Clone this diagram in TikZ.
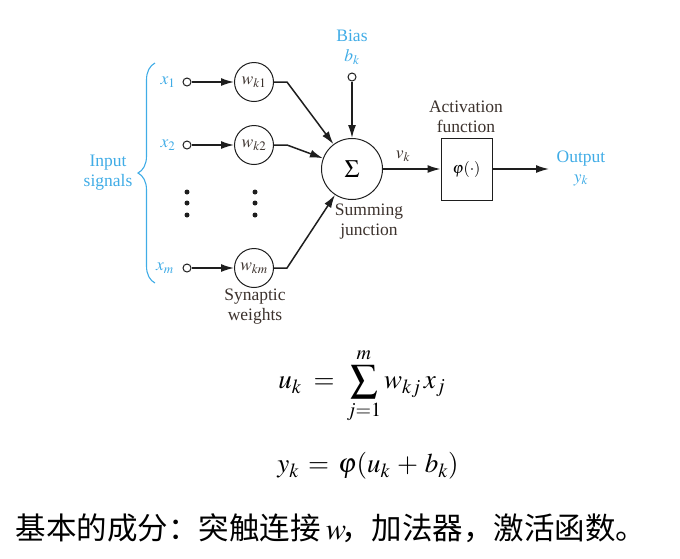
\documentclass[tikz,border=0pt]{standalone}
\usepackage{mathptmx}
\usepackage{fontspec}
\setmainfont{Liberation Serif}
\newfontfamily\cjk{Noto Sans CJK SC}
\usetikzlibrary{arrows.meta,decorations.pathreplacing}
\definecolor{lblue}{RGB}{64,172,230}
\definecolor{dtext}{RGB}{60,50,45}
\definecolor{lncol}{RGB}{30,30,30}
\begin{document}
\begin{tikzpicture}[x=1pt,y=-1pt,
  lbl/.style={font=\fontsize{17.5}{20}\selectfont, text=dtext, align=center, inner sep=0pt},
  blbl/.style={lbl,text=lblue},
  port/.style={circle,draw=lncol,line width=1pt,fill=white,minimum size=8pt,inner sep=0pt},
  wcirc/.style={circle,draw=lncol,line width=1pt,minimum size=39pt,inner sep=0pt,text=dtext,font=\fontsize{17.5}{19}\selectfont},
  arr/.style={draw=lncol,line width=1.5pt,-{Latex[length=13pt,width=8pt]}},
  dotn/.style={circle,fill=lncol,minimum size=5pt,inner sep=0pt},
  formula/.style={font=\fontsize{27}{31}\selectfont, inner sep=0pt}]
\useasboundingbox (0,0) rectangle (680,558);
% inputs
\node[blbl] (lx1) at (168,82) {$x_1$};
\node[blbl] (lx2) at (168,145) {$x_2$};
\node[blbl] (lxm) at (165,268) {$x_m$};
\node[port] (p1) at (187,82) {};
\node[port] (p2) at (187,145) {};
\node[port] (pm) at (187,268) {};
\node[wcirc] (w1) at (254,82) {$w_{k1}$};
\node[wcirc] (w2) at (254,145) {$w_{k2}$};
\node[wcirc] (wm) at (254,268) {$w_{km}$};
\foreach \y [count=\i] in {192,203,215}{
  \node[dotn] (da\i) at (187,\y) {};
  \node[dotn] (db\i) at (255,\y) {};
}
% brace
\coordinate (brb) at (155,283);
\coordinate (brt) at (155,63);
\draw[lblue,line width=1.1pt,decorate,decoration={brace,amplitude=17pt}] (brb) -- (brt);
\node[blbl] (insig) at (108,173) {Input\\signals};
% summing junction
\node[circle,draw=lncol,line width=1pt,minimum size=61pt,inner sep=0pt,font=\fontsize{25}{27}\selectfont] (sig) at (352,169) {$\Sigma$};
\node[lbl] (sumlbl) at (369,222) {Summing\\junction};
\node[port] (pb) at (352,77) {};
\node[blbl] (bias) at (352,47) {Bias\\$b_k$};
% activation
\node[draw=lncol,line width=1pt,minimum width=51pt,minimum height=62pt,inner sep=0pt,font=\fontsize{16}{18}\selectfont] (act) at (466.5,169) {$\varphi(\cdot)$};
\node[lbl] (actlbl) at (466,117) {Activation\\function};
\node[lbl] (vk) at (403,156) {$v_k$};
\coordinate (outend) at (549,169);
\node[blbl] (outlbl) at (581,168) {Output\\$y_k$};
\node[lbl] (synlbl) at (255,307) {Synaptic\\weights};
% connectors
\draw[arr] (p1) -- (w1);
\draw[arr] (p2) -- (w2);
\draw[arr] (pm) -- (wm);
\coordinate (k1) at (287,82);
\coordinate (k2) at (287,145);
\coordinate (km) at (287,268);
\draw[arr] (w1.east) -- (k1) -- (sig);
\draw[arr] (w2.east) -- (k2) -- (sig);
\draw[arr] (wm.east) -- (km) -- (sig);
\draw[arr] (pb) -- (sig);
\draw[arr] (sig) -- (act);
\draw[arr] (act) -- (outend);
% formulas
\node[formula] (f1) at (362,386) {$u_k \;=\; \displaystyle\sum_{j=1}^{m} w_{kj}\,x_j$};
\node[formula] (f2) at (368,466) {$y_k \,=\, \varphi(u_k \,+\, b_k)$};
\node[font=\fontsize{30.5}{33}\selectfont, inner sep=0pt] (cn) at (331,528) {\cjk 基本的成分：突触连接\,$w$\!，加法器，激活函数。};
\end{tikzpicture}
\end{document}
